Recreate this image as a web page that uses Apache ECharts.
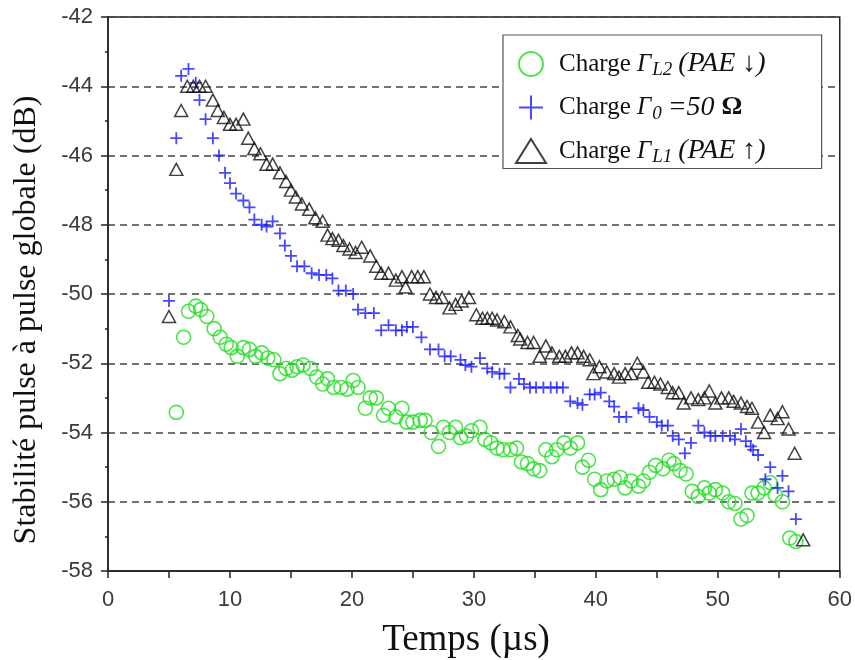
<!DOCTYPE html>
<html>
<head>
<meta charset="utf-8">
<script src="https://cdn.jsdelivr.net/npm/echarts@6/dist/echarts.min.js"></script>
<style>html,body{margin:0;padding:0;background:#fff}#c{width:855px;height:660px}</style>
</head>
<body>
<div id="c"></div>
<script>
// ---- data ----
const seriesNames = ['L2', 'G0', 'L1'];
const xTicks = [0, 10, 20, 30, 40, 50, 60];
const yTicks = [-58, -56, -54, -52, -50, -48, -46, -44, -42];

const greenL2 = [
 [5.6,-53.42],[6.2,-51.25],[6.6,-50.5],[7.2,-50.35],[7.6,-50.45],[8.1,-50.65],[8.7,-51.0],[9.2,-51.25],
 [9.7,-51.45],[10.1,-51.55],[10.6,-51.8],[11.1,-51.55],[11.6,-51.6],[12.1,-51.8],[12.6,-51.7],[13.1,-51.85],
 [13.6,-51.9],[14.1,-52.3],[14.6,-52.15],[15.1,-52.2],[15.5,-52.1],[16.0,-52.05],[16.6,-52.15],[17.1,-52.4],
 [17.6,-52.6],[18.0,-52.45],[18.5,-52.7],[19.1,-52.7],[19.6,-52.75],[20.1,-52.5],[20.5,-52.7],[21.1,-53.3],
 [21.5,-53.0],[22.0,-53.0],[22.6,-53.5],[23.0,-53.3],[23.6,-53.55],[24.1,-53.3],[24.5,-53.7],[25.0,-53.7],
 [25.6,-53.65],[26.0,-53.65],[26.5,-54.0],[27.1,-54.4],[27.5,-53.85],[28.0,-54.0],[28.5,-53.85],[28.9,-54.15],
 [29.4,-54.1],[29.8,-53.95],[30.5,-53.85],[30.9,-54.2],[31.4,-54.3],[31.9,-54.45],[32.4,-54.5],[33.0,-54.5],
 [33.5,-54.45],[33.9,-54.85],[34.4,-54.9],[34.9,-55.05],[35.4,-55.1],[35.9,-54.5],[36.4,-54.7],[36.8,-54.5],
 [37.4,-54.3],[37.9,-54.45],[38.5,-54.3],[38.9,-55.0],[39.4,-54.8],[39.9,-55.35],[40.4,-55.65],[40.9,-55.4],
 [41.5,-55.35],[42.0,-55.3],[42.4,-55.6],[42.9,-55.4],[43.5,-55.55],[43.9,-55.4],[44.4,-55.15],[44.9,-54.95],
 [45.5,-55.05],[46.0,-54.8],[46.4,-54.9],[46.9,-55.1],[47.4,-55.2],[47.9,-55.7],[48.4,-55.85],[48.9,-55.6],
 [49.3,-55.75],[49.8,-55.65],[50.4,-55.75],[50.9,-56.0],[51.4,-56.05],[51.9,-56.5],[52.4,-56.4],[52.8,-55.75],
 [53.3,-55.75],[53.8,-55.6],[54.3,-55.45],[54.7,-55.8],[55.3,-56.0],[55.9,-57.05],[56.4,-57.15]
];

const blueG0 = [
 [5.0,-50.2],[5.6,-45.5],[6.0,-43.7],[6.6,-43.5],[7.2,-43.9],[7.5,-44.4],[8.0,-44.95],[8.6,-45.5],
 [9.1,-46.0],[9.6,-46.5],[10.0,-46.8],[10.5,-47.1],[11.1,-47.3],[11.6,-47.5],[12.0,-47.85],[12.6,-48.0],
 [13.0,-48.05],[13.5,-47.9],[14.1,-48.25],[14.5,-48.6],[15.0,-48.9],[15.5,-49.2],[16.1,-49.2],[16.7,-49.4],
 [17.3,-49.45],[17.9,-49.45],[18.4,-49.55],[18.9,-49.9],[19.5,-49.9],[20.1,-50.0],[20.5,-50.45],[21.1,-50.55],
 [21.8,-50.55],[22.4,-51.05],[23.0,-50.9],[23.6,-51.05],[24.1,-51.05],[24.5,-50.95],[25.0,-50.95],[25.7,-51.25],
 [26.4,-51.6],[27.1,-51.6],[27.6,-51.8],[28.1,-51.8],[28.9,-51.9],[29.3,-52.05],[29.8,-52.1],[30.5,-51.85],
 [31.1,-52.15],[31.5,-52.25],[32.1,-52.3],[32.5,-52.3],[33.0,-52.7],[33.7,-52.45],[34.1,-52.6],[34.6,-52.7],
 [35.1,-52.7],[35.7,-52.7],[36.3,-52.7],[36.8,-52.7],[37.3,-52.7],[37.9,-53.1],[38.5,-53.15],[38.9,-53.2],
 [39.5,-52.9],[39.9,-52.9],[40.4,-52.85],[41.1,-53.1],[41.5,-53.25],[41.9,-53.55],[42.5,-53.55],[43.5,-53.3],
 [43.9,-53.35],[44.4,-53.55],[45.0,-53.7],[45.4,-53.8],[45.9,-53.8],[46.3,-54.1],[46.8,-54.2],[47.3,-54.6],
 [47.8,-54.3],[48.4,-53.8],[48.9,-54.0],[49.4,-54.1],[49.8,-54.1],[50.4,-54.1],[51.0,-54.1],[51.4,-54.2],
 [51.9,-53.9],[52.3,-54.25],[52.7,-54.4],[52.9,-54.5],[53.3,-54.65],[53.9,-55.35],[54.3,-55.0],[54.9,-55.6],
 [55.3,-55.25],[55.8,-55.7],[56.4,-56.5]
];

const blackL1 = [
 [5.0,-50.65],[5.6,-46.4],[6.0,-44.7],[6.5,-44.0],[7.0,-44.0],[7.5,-44.0],[8.0,-44.0],[8.6,-44.4],
 [9.0,-44.7],[9.5,-44.9],[10.0,-45.1],[10.5,-45.1],[11.1,-44.95],[11.5,-45.5],[12.0,-45.8],[12.5,-45.95],
 [13.0,-46.25],[13.5,-46.25],[14.1,-46.5],[14.6,-46.75],[15.0,-47.0],[15.4,-47.2],[15.9,-47.4],[16.5,-47.55],
 [17.0,-47.8],[17.6,-47.9],[18.0,-48.3],[18.4,-48.4],[18.9,-48.45],[19.3,-48.6],[19.8,-48.7],[20.3,-48.8],
 [20.8,-48.65],[21.5,-48.9],[22.0,-49.2],[22.4,-49.4],[23.0,-49.4],[23.6,-49.6],[24.1,-49.5],[24.4,-49.8],
 [24.9,-49.5],[25.4,-49.5],[25.9,-49.5],[26.4,-50.0],[26.9,-50.1],[27.4,-50.1],[28.0,-50.4],[28.5,-50.3],
 [29.0,-50.2],[29.6,-50.1],[30.2,-50.6],[30.7,-50.7],[31.1,-50.7],[31.5,-50.7],[31.9,-50.75],[32.5,-50.8],
 [33.0,-50.95],[33.6,-51.2],[33.8,-51.3],[34.4,-51.4],[34.9,-51.4],[35.4,-51.8],[35.9,-51.5],[36.4,-51.7],
 [37.0,-51.8],[37.5,-51.8],[38.0,-51.7],[38.5,-51.7],[39.0,-51.8],[39.5,-51.9],[39.8,-52.3],[40.3,-52.1],
 [40.9,-52.25],[41.5,-52.3],[41.9,-52.4],[42.4,-52.3],[42.9,-52.3],[43.4,-52.0],[43.9,-52.25],[44.3,-52.55],
 [44.8,-52.55],[45.3,-52.6],[45.9,-52.7],[46.3,-52.85],[46.8,-52.85],[47.2,-53.15],[47.8,-53.0],[48.4,-53.05],
 [48.9,-53.0],[49.3,-52.8],[49.8,-53.15],[50.3,-53.0],[50.9,-53.0],[51.3,-53.1],[51.9,-53.15],[52.4,-53.25],
 [52.8,-53.3],[53.3,-53.7],[53.8,-54.0],[54.3,-53.5],[54.9,-53.6],[55.3,-53.4],[55.8,-53.9],[56.3,-54.6],
 [57.0,-57.1]
];

// ---- chart ----
const chart = echarts.init(document.getElementById('c'), null, {renderer: 'canvas'});
const SERIF = '"Liberation Serif", "Times New Roman", serif';
const SANS = '"Liberation Sans", Arial, sans-serif';

const legendText = {
  L2: '{n|Charge }{g|Γ}{s|L2}{i|(PAE ↓)}',
  G0: '{n|Charge }{g|Γ}{s|0}{i|=50 }{b|Ω}',
  L1: '{n|Charge }{g|Γ}{s|L1}{i|(PAE ↑)}'
};

const option = {
  animation: false,
  backgroundColor: '#fff',
  grid: {left: 108, top: 17, width: 735, height: 554, show: true, borderColor: '#222', borderWidth: 1.5, backgroundColor: 'transparent'},
  xAxis: {
    type: 'value', min: 0, max: 60, interval: 5,
    axisLine: {lineStyle: {color: '#222', width: 1.5}},
    axisTick: {show: true, inside: false, length: 7, lineStyle: {color: '#222', width: 1.5}},
    axisLabel: {
      margin: 18, color: '#3a3a3a', fontFamily: SANS, fontSize: 22,
      formatter: v => (xTicks.indexOf(v) >= 0 ? String(v) : '')
    },
    splitLine: {show: false}
  },
  yAxis: {
    type: 'value', min: -58, max: -42, interval: 2,
    axisLine: {show: true, lineStyle: {color: '#222', width: 1.5}},
    axisTick: {show: true, inside: false, length: 7, lineStyle: {color: '#222', width: 1.5}},
    minorTick: {show: true, splitNumber: 2, length: 3, lineStyle: {color: '#222', width: 1.5}},
    axisLabel: {
      margin: 15, color: '#3a3a3a', fontFamily: SANS, fontSize: 22,
      formatter: v => (yTicks.indexOf(v) >= 0 ? String(v) : '')
    },
    splitLine: {show: true, lineStyle: {color: '#444', width: 1.6, type: [7, 5]}}
  },
  legend: {
    orient: 'vertical',
    left: 503, top: 35,
    padding: [15, 56, 2, 12],
    itemGap: 14,
    itemWidth: 30, itemHeight: 24,
    backgroundColor: '#fff',
    borderColor: '#555', borderWidth: 1.2,
    data: seriesNames,
    formatter: name => legendText[name],
    textStyle: {
      fontFamily: SERIF, fontSize: 25, color: '#111',
      rich: {
        n: {fontFamily: SERIF, fontSize: 25, color: '#111', padding: [0, 0, 0, 8]},
        g: {fontFamily: SERIF, fontSize: 25, fontStyle: 'italic', color: '#111'},
        s: {fontFamily: SERIF, fontSize: 19, fontStyle: 'italic', color: '#111', padding: [12, 6, 0, 1]},
        i: {fontFamily: SERIF, fontSize: 28, fontStyle: 'italic', color: '#111'},
        b: {fontFamily: SERIF, fontSize: 26, fontWeight: 'bold', color: '#111'}
      }
    }
  },
  graphic: [
    {type: 'text', x: 27, y: 320, rotation: Math.PI / 2,
     style: {text: 'Stabilité pulse à pulse globale (dB)', font: '32px ' + SERIF, fill: '#111', align: 'center', verticalAlign: 'middle'}},
    {type: 'text', x: 466, y: 640,
     style: {text: 'Temps (µs)', font: '37px ' + SERIF, fill: '#111', align: 'center', verticalAlign: 'middle'}}
  ],
  series: [
    {
      name: 'L2', type: 'scatter', data: greenL2,
      symbol: 'circle', symbolSize: 14,
      itemStyle: {color: 'rgba(0,0,0,0)', borderColor: '#22dd22', borderWidth: 1.6},
      emphasis: {disabled: true}, z: 2
    },
    {
      name: 'G0', type: 'scatter', data: blueG0,
      symbol: 'path://M5,0L5,10M0,5L10,5', symbolSize: 12,
      itemStyle: {color: 'rgba(0,0,0,0)', borderColor: '#1a1aff', borderWidth: 1.8},
      emphasis: {disabled: true}, z: 3
    },
    {
      name: 'L1', type: 'scatter', data: blackL1,
      symbol: 'triangle', symbolSize: [13, 12],
      itemStyle: {color: 'rgba(0,0,0,0)', borderColor: '#111', borderWidth: 1.5},
      emphasis: {disabled: true}, z: 4
    }
  ]
};
chart.setOption(option);
</script>
</body>
</html>
